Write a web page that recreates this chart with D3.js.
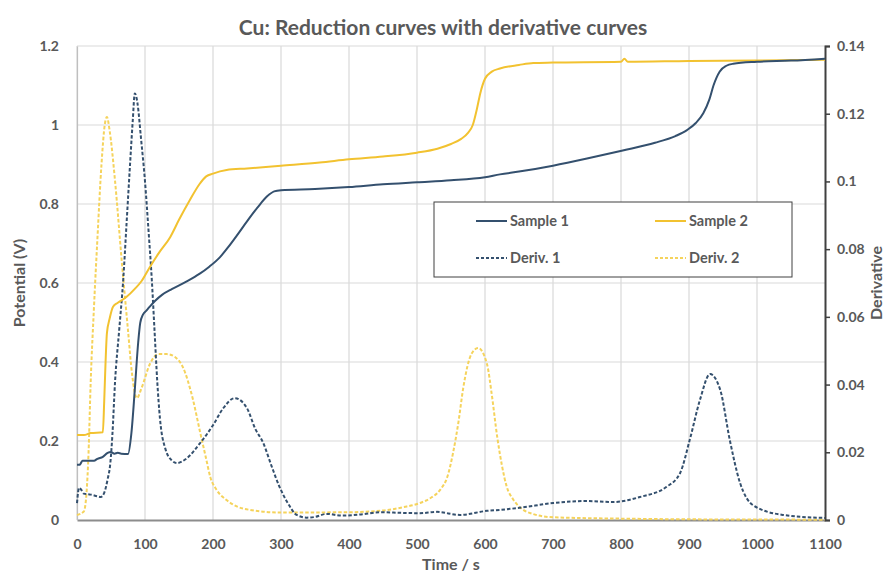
<!DOCTYPE html>
<head>
  <meta charset="utf-8">
  <title>Cu reduction curves</title>
  <style>
    body { margin: 0; background: #fff; }
    text { font-family: Lato, "Open Sans", sans-serif; fill: #595959; font-weight: bold; }
  </style>
</head>

<script src="https://d3js.org/d3.v7.min.js"></script>

<div id="my_dataviz"></div>

<script>

  // potential curves: [time (s), potential (V)]
  const sample1 = [[0,0.14],[4,0.14],[8,0.15],[15,0.15],[25,0.15],[30,0.155],[38,0.16],[45,0.17],[50,0.172],[55,0.168],[60,0.17],[65,0.168],[75,0.167],[80,0.22],[85,0.33],[90,0.45],[93,0.499],[97,0.52],[102,0.53],[107,0.54],[115,0.555],[125,0.57],[140,0.585],[160,0.603],[180,0.623],[195,0.642],[210,0.665],[222,0.69],[235,0.72],[250,0.756],[265,0.79],[280,0.82],[290,0.832],[300,0.835],[350,0.838],[400,0.843],[450,0.85],[500,0.855],[550,0.86],[600,0.868],[622,0.875],[650,0.882],[700,0.897],[750,0.915],[801,0.935],[850,0.955],[880,0.972],[897,0.987],[910,1.005],[921,1.03],[930,1.065],[936,1.1],[945,1.135],[955,1.15],[965,1.155],[1000,1.16],[1050,1.163],[1100,1.168]]

  const sample2 = [[0,0.215],[10,0.215],[20,0.22],[38,0.222],[40,0.3],[42,0.4],[44,0.473],[48,0.51],[53,0.54],[60,0.55],[73,0.565],[85,0.585],[95,0.605],[107,0.64],[120,0.675],[137,0.716],[150,0.76],[166,0.81],[180,0.85],[190,0.87],[200,0.877],[220,0.886],[250,0.89],[300,0.897],[357,0.905],[400,0.913],[450,0.92],[500,0.93],[530,0.94],[550,0.952],[565,0.965],[575,0.98],[582,1.0],[588,1.04],[593,1.08],[600,1.117],[610,1.135],[622,1.143],[650,1.152],[671,1.157],[700,1.158],[800,1.16],[805,1.168],[810,1.16],[900,1.162],[1000,1.163],[1100,1.165]]

  // derivative curves: [time (s), derivative]
  const deriv1 = [[0,0.005],[3,0.0095],[6,0.009],[10,0.0078],[20,0.0075],[30,0.007],[35,0.0068],[40,0.008],[45,0.012],[49,0.0168],[52,0.025],[56,0.041],[62,0.056],[68,0.071],[73,0.088],[78,0.105],[82,0.118],[85,0.126],[89,0.123],[94,0.113],[100,0.1],[105,0.086],[110,0.071],[114,0.056],[118,0.041],[122,0.03],[130,0.021],[140,0.0175],[147,0.0168],[160,0.018],[181,0.0227],[200,0.028],[215,0.033],[232,0.036],[250,0.033],[262,0.027],[274,0.0227],[286,0.016],[298,0.0097],[310,0.005],[323,0.0015],[338,0.0007],[350,0.0009],[367,0.0018],[390,0.0013],[420,0.0017],[445,0.0023],[480,0.0021],[504,0.002],[529,0.0024],[563,0.0015],[603,0.0027],[622,0.003],[651,0.0036],[700,0.005],[750,0.0056],[788,0.0053],[828,0.0068],[867,0.0098],[887,0.0139],[901,0.0236],[916,0.0354],[931,0.0431],[946,0.0384],[960,0.0236],[975,0.011],[994,0.0044],[1038,0.0015],[1100,0.0006]]

  const deriv2 = [[0,0.0015],[10,0.0025],[14,0.008],[17,0.02],[20,0.04],[25,0.063],[30,0.083],[36,0.105],[41,0.117],[44,0.119],[48,0.115],[56,0.1],[66,0.076],[75,0.056],[81,0.043],[88,0.036],[95,0.039],[107,0.046],[120,0.049],[132,0.049],[145,0.048],[156,0.045],[170,0.036],[181,0.026],[190,0.018],[196,0.0127],[205,0.009],[220,0.0059],[235,0.004],[254,0.003],[300,0.0022],[400,0.0023],[450,0.0028],[480,0.0038],[504,0.005],[520,0.0065],[534,0.0089],[545,0.013],[553,0.0198],[561,0.029],[568,0.039],[580,0.049],[590,0.0508],[603,0.046],[610,0.037],[618,0.0245],[625,0.016],[632,0.0098],[641,0.0062],[651,0.0038],[670,0.0018],[700,0.0008],[800,0.0004],[900,0.0002],[1100,0.0001]]

  const xTicks = d3.range(0, 1101, 100)
  const yTicks = [0, 0.2, 0.4, 0.6, 0.8, 1, 1.2]
  const y2Ticks = [0, 0.02, 0.04, 0.06, 0.08, 0.1, 0.12, 0.14]

  const blue = "#34506e", gold = "#f2c230", goldLight = "#f5d35c"

  const margin = {top: 46, right: 62, bottom: 57, left: 77},
      width = 887 - margin.left - margin.right,
      height = 577 - margin.top - margin.bottom;

  const root = d3.select("#my_dataviz")
    .append("svg")
      .attr("width", 887)
      .attr("height", 577)
  const svg = root.append("g")
      .attr("transform", `translate(${margin.left},${margin.top})`);

  const x = d3.scaleLinear().domain([0, 1100]).range([0, width])
  const y = d3.scaleLinear().domain([0, 1.2]).range([height, 0])
  const y2 = d3.scaleLinear().domain([0, 0.14]).range([height, 0])

  // grid
  svg.append("g").selectAll("line").data(xTicks.slice(0, -1)).join("line")
    .attr("x1", d => x(d)).attr("x2", d => x(d))
    .attr("y1", 0).attr("y2", height)
    .attr("stroke", "#d9d9d9").attr("stroke-width", 1.2)
  svg.append("g").selectAll("line").data(yTicks.slice(1)).join("line")
    .attr("x1", 0).attr("x2", width)
    .attr("y1", d => y(d)).attr("y2", d => y(d))
    .attr("stroke", "#d9d9d9").attr("stroke-width", 1.2)

  // axes
  const xAxis = svg.append("g")
    .attr("transform", `translate(0, ${height})`)
    .call(d3.axisBottom(x).tickValues(xTicks).tickFormat(d3.format("")).tickSize(0).tickPadding(19))
  xAxis.select(".domain").attr("stroke", "#8c8c8c").attr("stroke-width", 2)

  const yAxis = svg.append("g")
    .call(d3.axisLeft(y).tickValues(yTicks).tickFormat(d3.format("")).tickSize(0).tickPadding(18))
  yAxis.select(".domain").attr("stroke", "#bfbfbf").attr("stroke-width", 1.2)

  const y2Axis = svg.append("g")
    .attr("transform", `translate(${width}, 0)`)
    .call(d3.axisRight(y2).tickValues(y2Ticks).tickFormat(d3.format("")).tickSize(5).tickSizeOuter(5).tickPadding(7))
  y2Axis.select(".domain").attr("stroke", "#404040").attr("stroke-width", 2)
  y2Axis.selectAll(".tick line").attr("stroke", "#404040").attr("stroke-width", 1.5)

  svg.selectAll(".tick text").attr("font-size", 14).attr("fill", "#595959")
    .style("font-family", "Lato, sans-serif").style("font-weight", "bold")

  // lines
  const line = d3.line().x(d => x(d[0])).y(d => y(d[1])).curve(d3.curveMonotoneX)
  const line2 = d3.line().x(d => x(d[0])).y(d => y2(d[1])).curve(d3.curveMonotoneX)

  svg.append("path").datum(deriv2).attr("d", line2)
    .attr("fill", "none").attr("stroke", goldLight).attr("stroke-width", 2).attr("stroke-dasharray", "3.5,2")
  svg.append("path").datum(deriv1).attr("d", line2)
    .attr("fill", "none").attr("stroke", blue).attr("stroke-width", 2).attr("stroke-dasharray", "3.5,2")
  svg.append("path").datum(sample2).attr("d", line)
    .attr("fill", "none").attr("stroke", gold).attr("stroke-width", 2)
  svg.append("path").datum(sample1).attr("d", line)
    .attr("fill", "none").attr("stroke", blue).attr("stroke-width", 2)

  // titles
  root.append("text").attr("x", 443).attr("y", 35).attr("text-anchor", "middle")
    .attr("font-size", 21).text("Cu: Reduction curves with derivative curves")
  root.append("text").attr("x", 451).attr("y", 570).attr("text-anchor", "middle")
    .attr("font-size", 16).text("Time / s")
  root.append("text").attr("transform", "translate(25,283) rotate(-90)").attr("text-anchor", "middle")
    .attr("font-size", 16).text("Potential (V)")
  root.append("text").attr("transform", "translate(882,283) rotate(-90)").attr("text-anchor", "middle")
    .attr("font-size", 16).text("Derivative")

  // legend
  const legendItems = [
    {name: "Sample 1", color: blue, dash: null, col: 0, row: 0},
    {name: "Sample 2", color: gold, dash: null, col: 1, row: 0},
    {name: "Deriv. 1", color: blue, dash: "3,2", col: 0, row: 1},
    {name: "Deriv. 2", color: goldLight, dash: "3,2", col: 1, row: 1}
  ]
  const legend = root.append("g").attr("transform", "translate(434,202)")
  legend.append("rect").attr("width", 358).attr("height", 75)
    .attr("fill", "#fff").attr("stroke", "#404040").attr("stroke-width", 1)
  const li = legend.selectAll("g.item").data(legendItems).join("g")
    .attr("transform", d => `translate(${42 + d.col * 179}, ${19 + d.row * 37})`)
  li.append("line").attr("x1", 0).attr("x2", 31).attr("y1", 0).attr("y2", 0)
    .attr("stroke", d => d.color).attr("stroke-width", 2)
    .attr("stroke-dasharray", d => d.dash)
  li.append("text").attr("x", 34).attr("y", 5).attr("font-size", 14.5).text(d => d.name)

</script>
